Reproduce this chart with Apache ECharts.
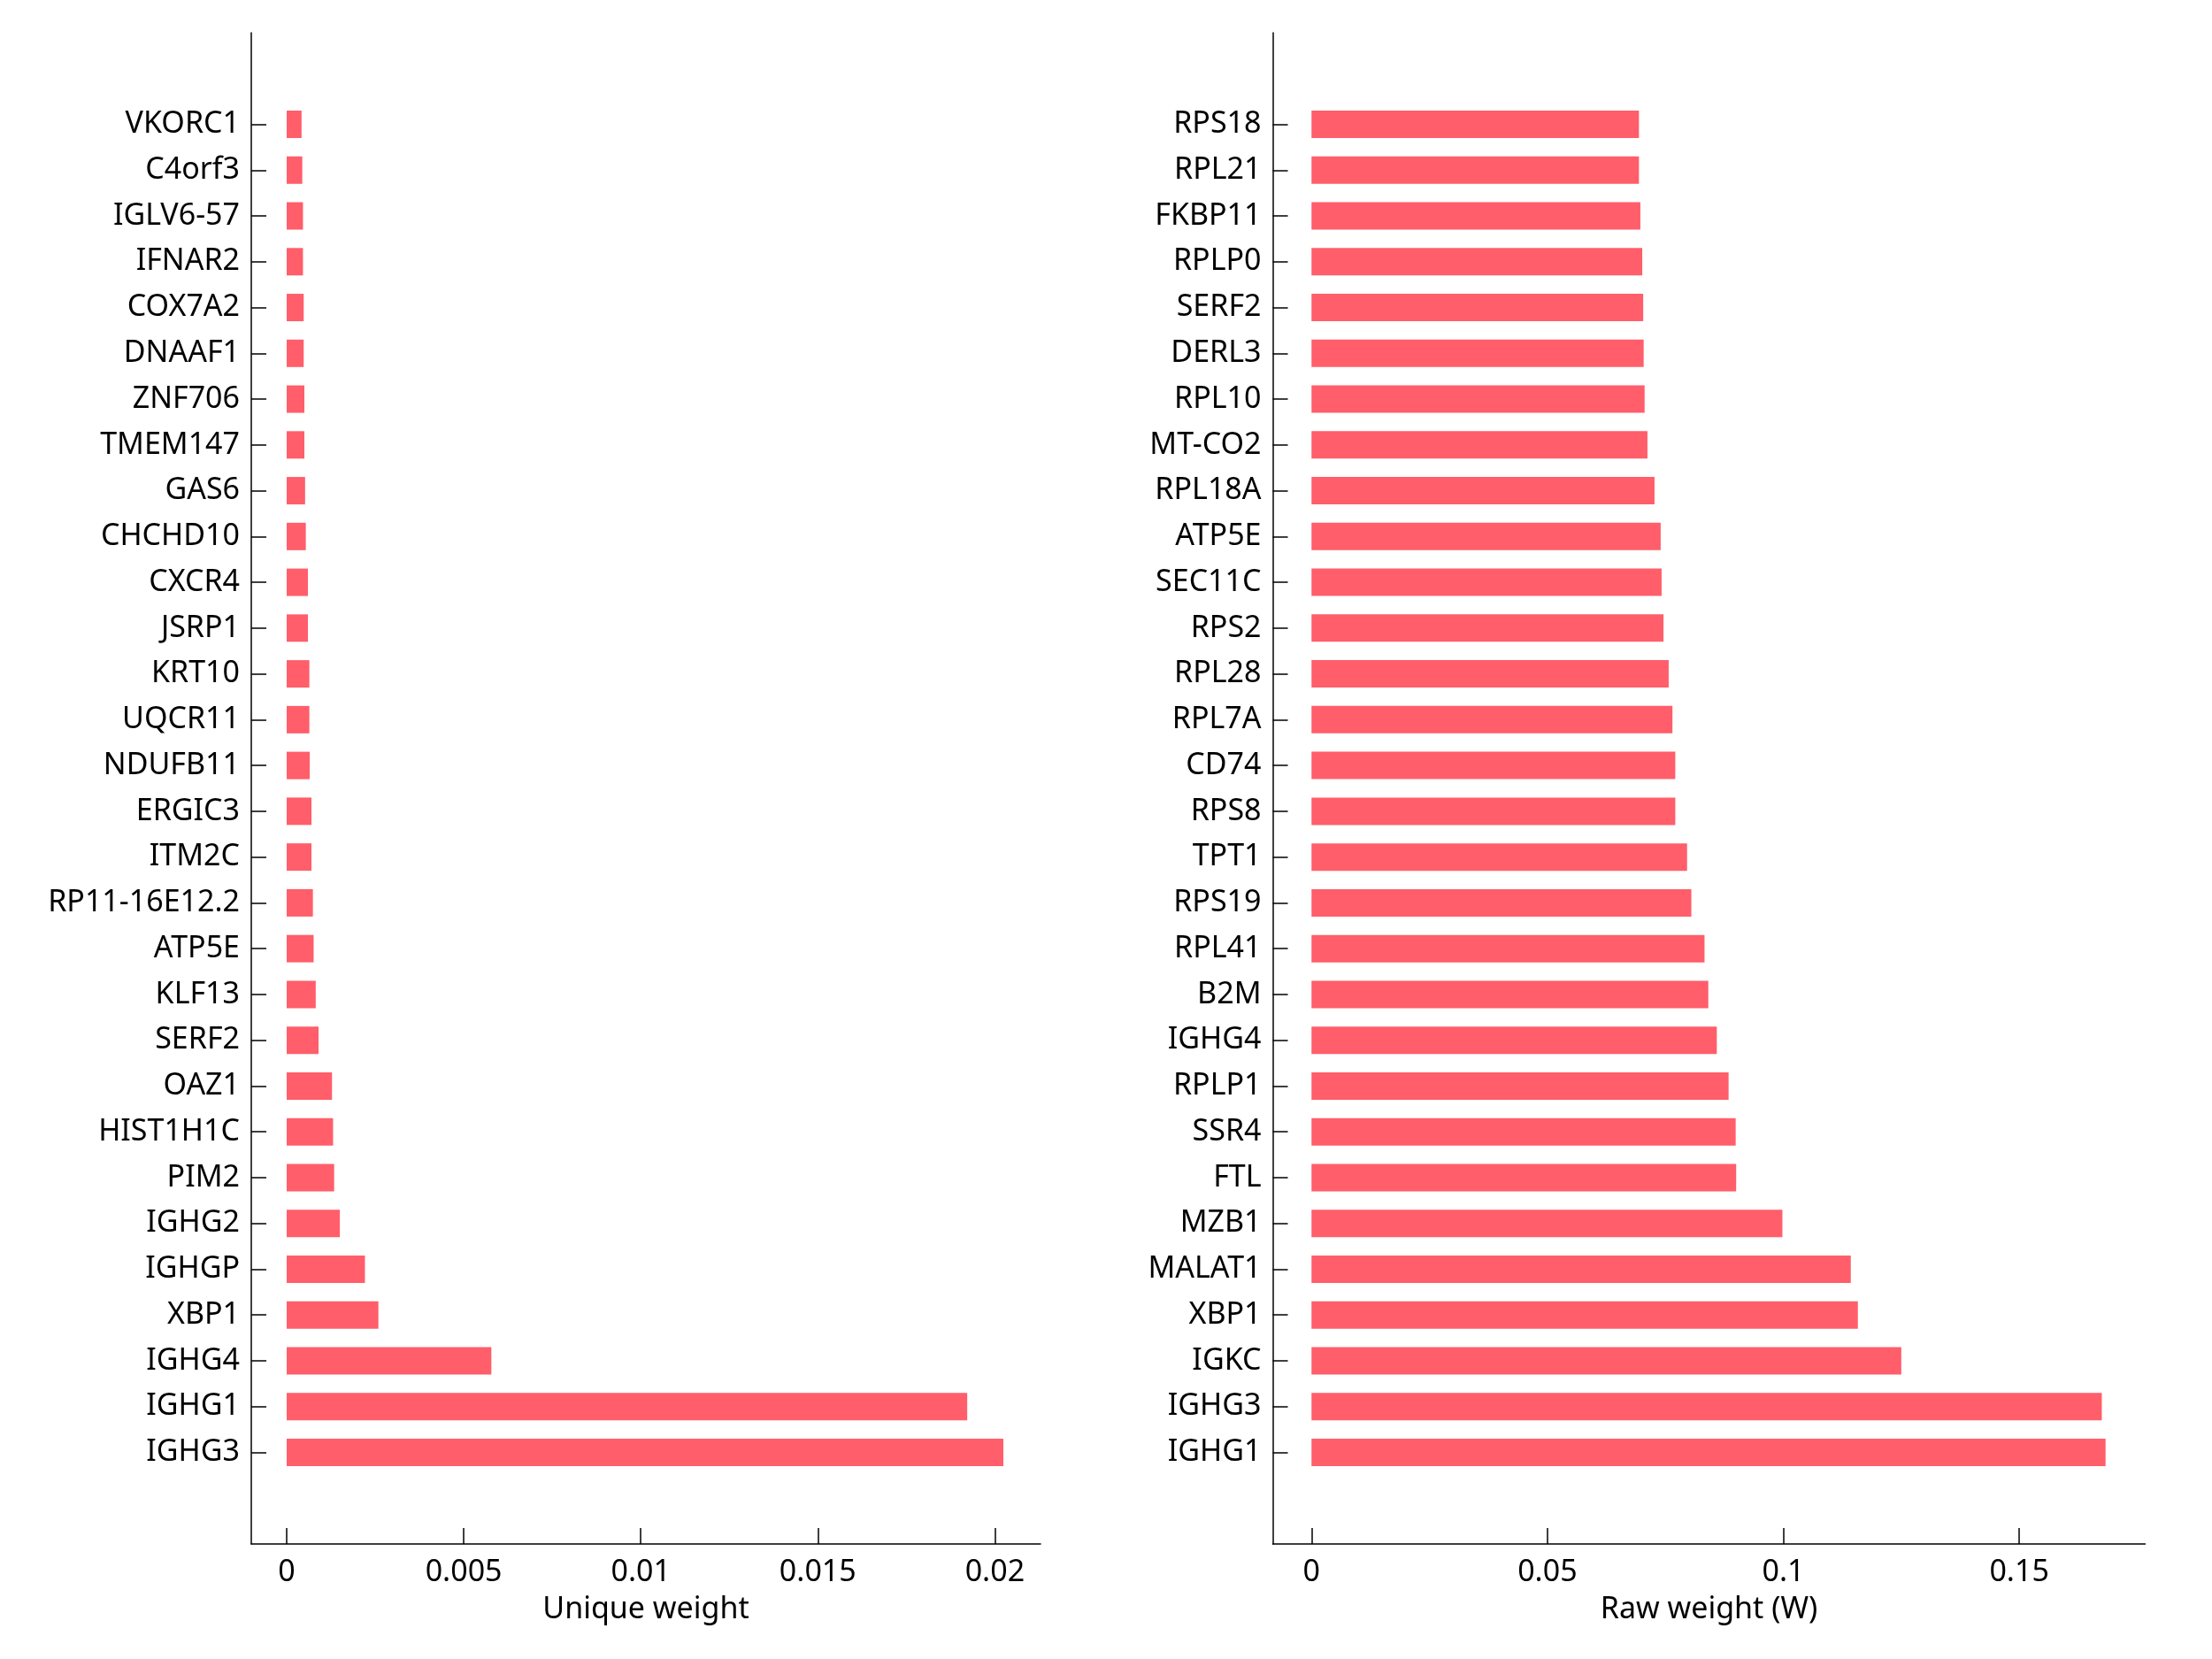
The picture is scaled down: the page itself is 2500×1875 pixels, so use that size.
<!DOCTYPE html>
<html>
<head>
<meta charset="utf-8">
<script src="https://cdn.jsdelivr.net/npm/echarts@6/dist/echarts.min.js"></script>
<style>
  html, body { margin: 0; padding: 0; background: #ffffff; }
  #chart { width: 2500px; height: 1875px; }
</style>
</head>
<body>
<div id="chart"></div>
<script>
// Left panel: Unique weight (top to bottom)
const leftCategories = ['VKORC1', 'C4orf3', 'IGLV6-57', 'IFNAR2', 'COX7A2', 'DNAAF1', 'ZNF706', 'TMEM147', 'GAS6', 'CHCHD10',
  'CXCR4', 'JSRP1', 'KRT10', 'UQCR11', 'NDUFB11', 'ERGIC3', 'ITM2C', 'RP11-16E12.2', 'ATP5E', 'KLF13',
  'SERF2', 'OAZ1', 'HIST1H1C', 'PIM2', 'IGHG2', 'IGHGP', 'XBP1', 'IGHG4', 'IGHG1', 'IGHG3'];
const leftValues = [0.00042, 0.00044, 0.00046, 0.00046, 0.00048, 0.00048, 0.0005, 0.0005, 0.00052, 0.00054,
  0.0006, 0.0006, 0.00064, 0.00064, 0.00065, 0.0007, 0.0007, 0.00074, 0.00076, 0.00082,
  0.0009, 0.00128, 0.00131, 0.00134, 0.0015, 0.00221, 0.00259, 0.00578, 0.01922, 0.02024];
const leftTicks = [0, 0.005, 0.01, 0.015, 0.02];

// Right panel: Raw weight (W) (top to bottom)
const rightCategories = ['RPS18', 'RPL21', 'FKBP11', 'RPLP0', 'SERF2', 'DERL3', 'RPL10', 'MT-CO2', 'RPL18A', 'ATP5E',
  'SEC11C', 'RPS2', 'RPL28', 'RPL7A', 'CD74', 'RPS8', 'TPT1', 'RPS19', 'RPL41', 'B2M',
  'IGHG4', 'RPLP1', 'SSR4', 'FTL', 'MZB1', 'MALAT1', 'XBP1', 'IGKC', 'IGHG3', 'IGHG1'];
const rightValues = [0.0694, 0.0694, 0.0697, 0.0701, 0.0703, 0.0704, 0.0706, 0.0712, 0.0727, 0.074,
  0.0742, 0.0746, 0.0757, 0.0765, 0.0771, 0.0771, 0.0796, 0.0805, 0.0833, 0.0841,
  0.0859, 0.0884, 0.0899, 0.09, 0.0998, 0.1143, 0.1158, 0.125, 0.1675, 0.1683];
const rightTicks = [0, 0.05, 0.1, 0.15];

const FONT = 'Noto Sans';
const BAR_COLOR = '#ff5e6a';

function padCats(arr) { return [' ', '  '].concat(arr, ['   ', '    ']); }
function padVals(arr) { return ['-', '-'].concat(arr, ['-', '-']); }

function yAxisFor(gridIndex, cats) {
  return {
    type: 'category',
    gridIndex: gridIndex,
    inverse: true,
    boundaryGap: false,
    data: padCats(cats),
    axisLine: { show: true, onZero: false, lineStyle: { color: '#000', width: 1.5 } },
    axisTick: {
      show: true, inside: true, length: 17,
      interval: function (i, v) { return String(v).trim() !== ''; },
      lineStyle: { color: '#000', width: 1.5 }
    },
    axisLabel: { interval: 0, margin: 13, color: '#000', fontFamily: FONT, fontSize: 34 },
    splitLine: { show: false }
  };
}

function xAxisFor(gridIndex, min, max, ticks, name) {
  return {
    type: 'value',
    gridIndex: gridIndex,
    min: min,
    max: max,
    name: name,
    nameLocation: 'middle',
    nameGap: 57,
    nameTextStyle: { color: '#000', fontFamily: FONT, fontSize: 34 },
    axisLine: { show: true, onZero: false, lineStyle: { color: '#000', width: 1.5 } },
    axisTick: { show: true, inside: true, length: 18, customValues: ticks, lineStyle: { color: '#000', width: 1.5 } },
    axisLabel: { customValues: ticks, margin: 15, color: '#000', fontFamily: FONT, fontSize: 34,
      showMinLabel: true, showMaxLabel: true },
    splitLine: { show: false }
  };
}

const chart = echarts.init(document.getElementById('chart'), null, { renderer: 'canvas', width: 2500, height: 1875 });
chart.setOption({
  backgroundColor: '#ffffff',
  animation: false,
  grid: [
    { left: 284, top: 37, width: 892, height: 1708, outerBoundsMode: 'none', containLabel: false },
    { left: 1438.5, top: 37, width: 986, height: 1708, outerBoundsMode: 'none', containLabel: false }
  ],
  xAxis: [
    xAxisFor(0, -0.001, 0.02129, leftTicks, 'Unique weight'),
    xAxisFor(1, -0.00821, 0.1767, rightTicks, 'Raw weight (W)')
  ],
  yAxis: [
    yAxisFor(0, leftCategories),
    yAxisFor(1, rightCategories)
  ],
  series: [
    { type: 'bar', xAxisIndex: 0, yAxisIndex: 0, data: padVals(leftValues), barWidth: 31,
      itemStyle: { color: BAR_COLOR }, silent: true },
    { type: 'bar', xAxisIndex: 1, yAxisIndex: 1, data: padVals(rightValues), barWidth: 31,
      itemStyle: { color: BAR_COLOR }, silent: true }
  ]
});
</script>
</body>
</html>
